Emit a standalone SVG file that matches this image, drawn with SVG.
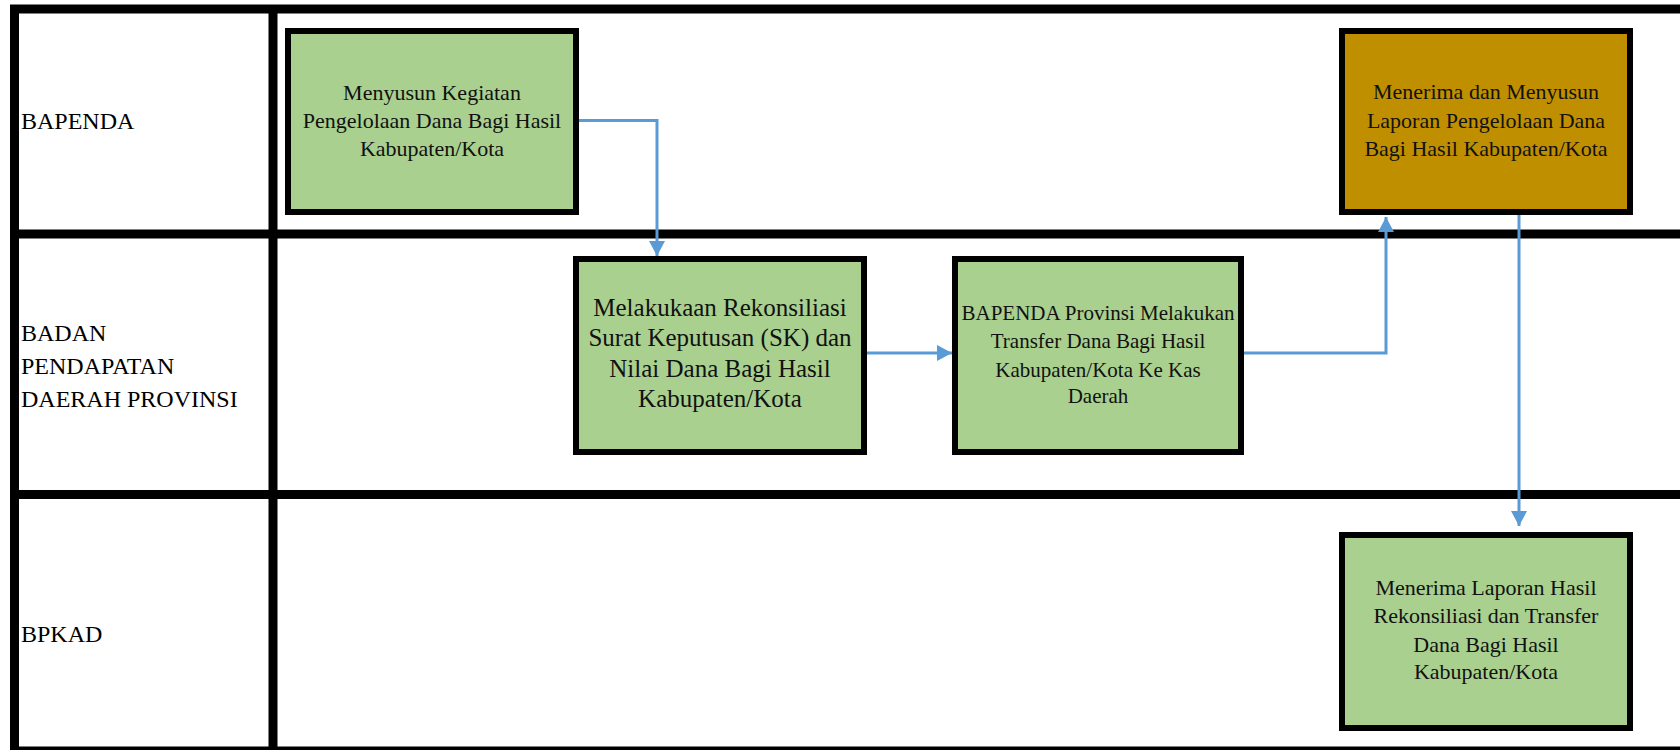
<svg xmlns="http://www.w3.org/2000/svg" width="1680" height="750" viewBox="0 0 1680 750">
<style>
.frame{stroke:#000;stroke-width:9;fill:none}
.box{stroke:#000;stroke-width:6}
.green{fill:#A9D08E}
.gold{fill:#BF8F00}
.lbl{font-family:"Liberation Serif","Times New Roman",serif;font-size:24px;fill:#000}
.t{font-family:"Liberation Serif","Times New Roman",serif;fill:#111;text-anchor:middle}
.conn{stroke:#5B9BD5;stroke-width:3;fill:none}
</style>
<defs>
<marker id="ah" markerUnits="userSpaceOnUse" markerWidth="15" markerHeight="16" viewBox="0 0 15 16" refX="15" refY="8" orient="auto">
<path d="M0,0 L15,8 L0,16 z" fill="#5B9BD5"/>
</marker>
</defs>
<rect width="1680" height="750" fill="#fff"/>
<g id="frame">
<line class="frame" x1="10" y1="9" x2="1680" y2="9"/>
<line class="frame" x1="14.5" y1="5" x2="14.5" y2="750"/>
<line class="frame" x1="273" y1="5" x2="273" y2="750"/>
<line class="frame" x1="10" y1="234" x2="1680" y2="234"/>
<line class="frame" x1="10" y1="494.5" x2="1680" y2="494.5"/>
<line class="frame" x1="10" y1="751" x2="1680" y2="751"/>
</g>
<g id="lanes">
<text class="lbl" x="21" y="129">BAPENDA</text>
<text class="lbl" x="21" y="341">BADAN</text>
<text class="lbl" x="21" y="374">PENDAPATAN</text>
<text class="lbl" x="21" y="407">DAERAH PROVINSI</text>
<text class="lbl" x="21" y="642">BPKAD</text>
</g>
<g id="connectors">
<path class="conn" d="M576,120.5 H657 V256" marker-end="url(#ah)"/>
<path class="conn" d="M867,353 H952" marker-end="url(#ah)"/>
<path class="conn" d="M1244,353 H1386 V217" marker-end="url(#ah)"/>
<path class="conn" d="M1519,215 V526" marker-end="url(#ah)"/>
</g>
<g id="node1">
<rect class="box green" x="288" y="31" width="288" height="181"/>
<text class="t" font-size="22" x="432" y="100">Menyusun Kegiatan</text>
<text class="t" font-size="22" x="432" y="128">Pengelolaan Dana Bagi Hasil</text>
<text class="t" font-size="22" x="432" y="156">Kabupaten/Kota</text>
</g>
<g id="node2">
<rect class="box green" x="576" y="259" width="288" height="193"/>
<text class="t" font-size="25" x="720" y="316">Melakukaan Rekonsiliasi</text>
<text class="t" font-size="25" x="720" y="346">Surat Keputusan (SK) dan</text>
<text class="t" font-size="25" x="720" y="377">Nilai Dana Bagi Hasil</text>
<text class="t" font-size="25" x="720" y="407">Kabupaten/Kota</text>
</g>
<g id="node3">
<rect class="box green" x="955" y="259" width="286" height="193"/>
<text class="t" font-size="21" x="1098" y="320">BAPENDA Provinsi Melakukan</text>
<text class="t" font-size="21" x="1098" y="348">Transfer Dana Bagi Hasil</text>
<text class="t" font-size="21" x="1098" y="377">Kabupaten/Kota Ke Kas</text>
<text class="t" font-size="21" x="1098" y="403">Daerah</text>
</g>
<g id="node4">
<rect class="box gold" x="1342" y="31" width="288" height="181"/>
<text class="t" font-size="22" x="1486" y="99">Menerima dan Menyusun</text>
<text class="t" font-size="22" x="1486" y="128">Laporan Pengelolaan Dana</text>
<text class="t" font-size="22" x="1486" y="156">Bagi Hasil Kabupaten/Kota</text>
</g>
<g id="node5">
<rect class="box green" x="1342" y="535" width="288" height="193"/>
<text class="t" font-size="22" x="1486" y="595">Menerima Laporan Hasil</text>
<text class="t" font-size="22" x="1486" y="623">Rekonsiliasi dan Transfer</text>
<text class="t" font-size="22" x="1486" y="652">Dana Bagi Hasil</text>
<text class="t" font-size="22" x="1486" y="679">Kabupaten/Kota</text>
</g>
</svg>
